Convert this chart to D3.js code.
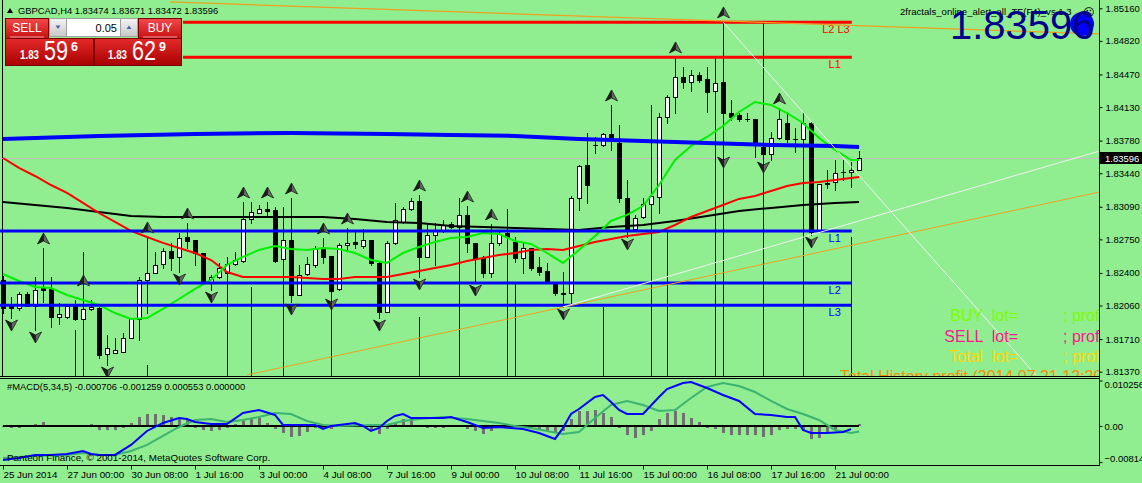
<!DOCTYPE html>
<html><head><meta charset="utf-8">
<script src="https://cdn.jsdelivr.net/npm/d3@7"></script>
<style>
html,body{margin:0;padding:0;background:#90EE90;overflow:hidden;}
svg{display:block;font-family:"Liberation Sans",Arial,sans-serif;}
</style></head><body>
<svg id="c" width="1142" height="483"></svg>
<script>
// ---------------- DATA ----------------
const opens=[1.82327,1.82055,1.82035,1.82181,1.82055,1.82243,1.82233,1.81941,1.81941,1.82055,
1.8192,1.82024,1.82035,1.81555,1.81565,1.81576,1.81722,1.8192,1.82327,1.824,
1.82494,1.82629,1.82567,1.82775,1.82744,1.82608,1.82295,1.82358,1.824,1.82494,
1.82525,1.82963,1.83025,1.83067,1.83057,1.82546,1.82744,1.8217,1.82389,1.82483,
1.8265,1.82577,1.82233,1.82692,1.82723,1.82681,1.82744,1.82504,1.81993,1.82713,
1.82932,1.83067,1.83151,1.82567,1.82796,1.82848,1.82911,1.82879,1.83005,1.82713,
1.82556,1.824,1.82713,1.82817,1.82723,1.82556,1.8266,1.82462,1.8242,1.82295,
1.82191,1.82191,1.83182,1.83526,1.83735,1.83735,1.83849,1.83756,1.83182,1.82859,
1.82984,1.83119,1.83192,1.84027,1.84235,1.84444,1.84392,1.84465,1.84423,1.84298,
1.84392,1.84068,1.84048,1.84006,1.84006,1.83714,1.83641,1.83808,1.83964,1.83797,
1.83797,1.83964,1.82838,1.83338,1.83349,1.83453,1.83457,1.83474];
const highs=[1.82368,1.82149,1.82201,1.82201,1.82358,1.8266,1.82358,1.82087,1.82066,1.82118,
1.82222,1.82118,1.82045,1.81753,1.81722,1.81774,1.8193,1.82358,1.82775,1.82619,
1.8266,1.82713,1.82817,1.82921,1.82744,1.82608,1.82379,1.82504,1.82567,1.82619,
1.8314,1.8314,1.83109,1.8314,1.83088,1.82744,1.83182,1.82483,1.82567,1.82681,
1.82765,1.82577,1.82713,1.82869,1.82848,1.82859,1.82744,1.82514,1.82733,1.8313,
1.83088,1.83182,1.83213,1.82921,1.82921,1.82952,1.82932,1.83025,1.83098,1.82713,
1.82577,1.82911,1.82827,1.8289,1.82775,1.82713,1.8266,1.82567,1.82504,1.82306,
1.8241,1.83203,1.83526,1.8386,1.83818,1.8386,1.84152,1.83943,1.8337,1.83005,
1.83182,1.83265,1.84068,1.84256,1.84653,1.84548,1.84517,1.84496,1.84548,1.84381,
1.85018,1.84204,1.84068,1.84068,1.84006,1.83756,1.8387,1.84121,1.84068,1.83912,
1.84068,1.83975,1.83328,1.83474,1.83578,1.83578,1.83557,1.83671];
const lows=[1.81982,1.8193,1.82014,1.82055,1.81805,1.82097,1.81836,1.81868,1.8193,1.81909,
1.81909,1.82014,1.81513,1.8144,1.81565,1.81576,1.81722,1.81701,1.81982,1.824,
1.82452,1.82431,1.8241,1.8266,1.82483,1.82285,1.82222,1.82348,1.82389,1.82483,
1.82514,1.82921,1.83025,1.83005,1.82514,1.82535,1.82097,1.8217,1.82379,1.82462,
1.82504,1.82149,1.82222,1.8264,1.8266,1.8266,1.82483,1.8193,1.81993,1.82702,
1.82921,1.83057,1.82358,1.82567,1.82483,1.82827,1.82869,1.82879,1.82619,1.82295,
1.82358,1.82358,1.82692,1.82744,1.82514,1.824,1.82431,1.82379,1.82295,1.8217,
1.82045,1.82087,1.83057,1.8313,1.83651,1.83724,1.83683,1.8314,1.82775,1.82848,
1.82973,1.83109,1.83025,1.83964,1.84068,1.84329,1.84298,1.84392,1.84079,1.84287,
1.8363,1.83995,1.83985,1.83985,1.8361,1.83578,1.83578,1.83797,1.83766,1.83662,
1.83735,1.82796,1.82827,1.83286,1.83265,1.8337,1.83297,1.83472];
const closes=[1.82035,1.82035,1.82181,1.82055,1.82222,1.82222,1.81941,1.81972,1.82055,1.8192,
1.82024,1.82045,1.81544,1.81617,1.81597,1.81722,1.8193,1.82327,1.824,1.82483,
1.82629,1.82556,1.82765,1.82733,1.82608,1.82295,1.82358,1.82452,1.82494,1.82535,
1.82963,1.83036,1.83067,1.83046,1.82525,1.82744,1.8217,1.82379,1.82494,1.8266,
1.82567,1.82212,1.82692,1.82713,1.82702,1.82744,1.82504,1.81993,1.82713,1.82952,
1.83067,1.83151,1.82567,1.82796,1.82848,1.829,1.82879,1.83005,1.82713,1.82556,
1.824,1.82713,1.82806,1.82775,1.82556,1.8266,1.82452,1.8241,1.82295,1.82191,
1.82181,1.83182,1.83516,1.83317,1.83731,1.83849,1.83787,1.83182,1.82859,1.82973,
1.83119,1.83203,1.84027,1.84235,1.84444,1.84392,1.84465,1.84413,1.84287,1.84381,
1.84068,1.84027,1.84006,1.84001,1.83756,1.83641,1.83808,1.84006,1.83797,1.83793,
1.83964,1.82827,1.83328,1.83328,1.83443,1.83457,1.83474,1.83596];

const maEvenIdx=[0,2,4,6,8,10,12,14,16,18,20,22,24,26,28,30,32,34,36,38,40,42,44,46,48,50,52,54,56,58,60,62,64,66,68,70,72,74,76,78,80,82,84,86,88,90,92,94,96,98,100,102,104,106,107];
const greenMA=[1.82389,1.82316,1.82254,1.82243,1.8217,1.82118,1.82066,1.81982,1.8192,1.8193,1.82024,1.82128,1.82233,1.82327,1.82483,1.82567,1.8264,1.82681,1.8265,1.8264,1.8266,1.8265,1.82608,1.82535,1.82504,1.82608,1.82671,1.82723,1.82765,1.82775,1.82817,1.82806,1.82733,1.82702,1.82608,1.82504,1.8264,1.82785,1.82942,1.83005,1.83098,1.83317,1.83578,1.83724,1.83818,1.83933,1.84079,1.84183,1.84152,1.84068,1.83964,1.83808,1.83683,1.83578,1.83578];
const redMA=[1.83599,1.83495,1.83411,1.83317,1.83234,1.8313,1.83025,1.82932,1.82838,1.82775,1.82713,1.8266,1.82608,1.82535,1.8241,1.82358,1.82358,1.82358,1.82358,1.82348,1.82337,1.82337,1.82358,1.82358,1.82358,1.82389,1.8242,1.82452,1.82483,1.82525,1.82556,1.82587,1.82608,1.8264,1.8265,1.8264,1.82681,1.82723,1.82754,1.82785,1.82806,1.82827,1.829,1.82984,1.83046,1.83109,1.83172,1.83203,1.83255,1.83307,1.83338,1.83349,1.8337,1.83391,1.83401];
const blackIdx=[0,4,8,12,16,20,24,28,32,36,40,44,48,52,56,60,64,68,72,76,80,84,88,92,96,100,104,107];
const blackMA=[1.8314,1.83109,1.83078,1.83036,1.82994,1.82984,1.82984,1.82984,1.82984,1.82984,1.82984,1.82963,1.82932,1.82921,1.8289,1.82879,1.82869,1.82859,1.82848,1.82879,1.829,1.82942,1.82994,1.83046,1.83078,1.83109,1.8313,1.8314];
const blueIdx=[0,12,24,36,48,56,64,72,80,88,96,104,107];
const blueMA=[1.83797,1.83829,1.83849,1.8386,1.83849,1.83839,1.83829,1.83797,1.83776,1.83756,1.83735,1.83724,1.83714];

const redLevelPrices=[1.85014,1.84650];
const redLevelNames=['L2 L3','L1'];
const blueLevelPrices=[1.82838,1.82295,1.82063];
const blueLevelNames=['L1','L2','L3'];

const fractalUp=[5,10,18,23,30,33,36,40,43,52,58,61,76,84,90,97];
const fractalDown=[1,4,13,22,26,36,41,47,52,59,70,78,90,95,101];

const vlineBars=[9,10,18,28,31,35,41,52,57,63,64,75,81,83,89,90,95,100,106];
const vlineTops=[1.81805,1.82619,1.8144,1.82535,1.82254,1.83088,1.82149,1.81941,1.83182,1.83067,1.82306,1.82045,1.84152,1.82848,1.84653,1.85018,1.85018,1.84068,1.82775];

// trendlines: [bar, price] endpoints
const orangeLow=[[30.5,1.81336],[137.1,1.83244]];
const orangeTop=[[20.9,1.85226],[137.1,1.84892]];
const whiteDiag=[[90,1.85018],[129.1,1.81336]];
const whiteLow=[[70,1.82045],[137.1,1.83672]];
const bidPrice=1.83596;

const priceTicks=[1.85160,1.84820,1.84470,1.84130,1.83780,1.83440,1.83090,1.82750,1.82400,1.82060,1.81710,1.81370];
const dateIdx=[0,8,16,24,32,40,48,56,64,72,80,88,96,104];
const dateLabels=['25 Jun 2014','27 Jun 00:00','30 Jun 08:00','1 Jul 16:00','3 Jul 00:00','4 Jul 08:00','7 Jul 16:00','9 Jul 00:00','10 Jul 08:00','11 Jul 16:00','15 Jul 00:00','16 Jul 08:00','17 Jul 16:00','21 Jul 00:00'];

const macdHist=[-0.00023,-0.00052,-0.00045,0,0.00052,0.00097,0,0,0,0,
0,0.00052,-0.0009,-0.00097,-0.0009,-0.00038,0.00074,0.0021,0.00277,0.00277,
0.00248,0.00203,0.00165,0.00135,-0.00038,-0.00097,-0.00119,-0.00097,-0.00038,0.00038,
0.00113,0.00165,0.00187,0.00074,-0.00074,-0.00151,-0.00241,-0.00225,-0.00135,-0.00038,
-0.00052,-0.00074,0.00038,0.00038,0.00074,0.00023,-0.00113,-0.00187,-0.00074,0.00074,
0.00165,0.00165,0.00023,-0.00038,-0.00052,-0.00038,0,0,-0.00061,-0.00113,
-0.00187,-0.00113,-0.00038,-0.00023,-0.00023,0,-0.00074,-0.00097,-0.00113,-0.00151,
-0.00113,0.00151,0.00338,0.00345,0.00367,0.003,0.00203,-0.00038,-0.0021,-0.00277,
-0.0021,-0.00113,0.00165,0.003,0.00338,0.003,0.00187,0.0009,-0.00038,-0.00061,
-0.00165,-0.0021,-0.0021,-0.0021,-0.0021,-0.00241,-0.00196,-0.0009,-0.00074,-0.00074,
-0.00113,-0.00286,-0.00264,-0.00151,-0.0009,-0.00023,0,0.00055];
const macdIdx=[0,2,4,6,8,10,11,12,14,16,18,20,22,23,24,26,28,30,32,34,35,37,39,40,41,43,44,45,46,47,48,49,50,51,55,56,58,60,62,65,67,69,70,71,72,74,75,76,77,78,80,82,83,85,86,88,90,92,94,96,98,99,100,101,103,105,106];
const macdVals=[-0.00766,-0.00721,-0.00654,-0.00654,-0.00631,-0.00564,-0.00631,-0.00654,-0.00654,-0.00428,-0.00113,0.00068,0.0018,0.00158,0.0009,0.00045,0.00045,0.00293,0.00361,0.00248,0.00023,0.00023,0.00023,-0.00068,0,0.00045,0.00068,0,-0.00113,-0.00045,0.00113,0.00225,0.0027,0.0018,0.0018,0.00203,0.0009,-0.00045,-0.00023,-0.00068,-0.00158,-0.00293,-0.00045,0.0027,0.00383,0.00654,0.00699,0.00541,0.00361,0.0027,0.0027,0.00654,0.00834,0.00969,0.00992,0.00857,0.00699,0.00564,0.0027,0.00248,0.00203,0.00203,-0.0009,-0.00158,-0.00158,-0.00135,-0.00071];
const sigIdx=[0,4,8,10,12,14,16,18,20,22,24,26,28,30,32,34,36,38,40,42,46,48,50,52,55,58,62,64,66,68,70,72,74,76,78,80,82,84,86,88,90,92,94,96,98,100,102,104,106,107];
const sigVals=[-0.00721,-0.00676,-0.00654,-0.00609,-0.00654,-0.00654,-0.00564,-0.00428,-0.00225,-0.00023,0.00135,0.00158,0.0009,0.00135,0.00203,0.00293,0.0027,0.00113,0.00023,0,0.00023,0.00023,0.00113,0.00158,0.00203,0.00158,0.00068,0,-0.00045,-0.00113,-0.0018,-0.00135,0.0018,0.00473,0.00564,0.00473,0.00338,0.00361,0.00631,0.00879,0.00969,0.00902,0.00766,0.00564,0.00383,0.0027,0.00135,-0.0009,-0.00158,-0.00126];
const macdTicks=[0.010256,0,-0.008149];

// ---------------- SCALES ----------------
const svg=d3.select('#c');
const x=d3.scaleLinear().domain([0,107]).range([3,859]);
const y=d3.scaleLinear().domain([1.81370,1.85160]).range([371.7,8.3]);
const ym=d3.scaleLinear().domain([-0.008149,0.010256]).range([462.1,380.5]);

const defs=svg.append('defs');
defs.append('clipPath').attr('id','mainClip').append('rect').attr('x',0).attr('y',0).attr('width',1099).attr('height',376);
defs.append('clipPath').attr('id','macdClip').append('rect').attr('x',0).attr('y',379).attr('width',1099).attr('height',86);
function grad(id,c1,c2){const g=defs.append('linearGradient').attr('id',id).attr('x1',0).attr('y1',0).attr('x2',0).attr('y2',1);
 g.append('stop').attr('offset','0%').attr('stop-color',c1);g.append('stop').attr('offset','100%').attr('stop-color',c2);}
grad('gTop','#F24A4A','#C81010');grad('gBot','#E42A2A','#A80000');grad('gSpin','#F4F4F4','#C8C8C8');
const ag=defs.append('linearGradient').attr('id','gArrow').attr('x1',0).attr('y1',0).attr('x2',1).attr('y2',0);
ag.append('stop').attr('offset','0%').attr('stop-color','#111');
ag.append('stop').attr('offset','50%').attr('stop-color','#222');
ag.append('stop').attr('offset','55%').attr('stop-color','#5a6a5a');
ag.append('stop').attr('offset','100%').attr('stop-color','#6a7a6a');

svg.append('rect').attr('width',1142).attr('height',483).attr('fill','#90EE90');

const main=svg.append('g').attr('clip-path','url(#mainClip)');

// left edge line
main.append('line').attr('x1',2.5).attr('x2',2.5).attr('y1',0).attr('y2',376).attr('stroke','#000');

// bid line
main.append('line').attr('x1',0).attr('x2',1099).attr('y1',Math.round(y(bidPrice))+0.5).attr('y2',Math.round(y(bidPrice))+0.5).attr('stroke','#C8BEBE').attr('stroke-width',1);

// long vertical lines
main.append('g').attr('shape-rendering','crispEdges').selectAll('line').data(vlineBars).join('line')
 .attr('x1',d=>x(d)+0.5).attr('x2',d=>x(d)+0.5).attr('y1',(d,i)=>y(vlineTops[i])).attr('y2',376).attr('stroke','#000');

// candles
const bars=d3.range(opens.length).map(i=>({i,o:opens[i],h:highs[i],l:lows[i],c:closes[i]}));
const cg=main.append('g').attr('shape-rendering','crispEdges');
cg.selectAll('line.w').data(bars).join('line').attr('class','w')
 .attr('x1',d=>x(d.i)+0.5).attr('x2',d=>x(d.i)+0.5)
 .attr('y1',d=>Math.round(y(d.h))).attr('y2',d=>Math.round(y(d.l))+1).attr('stroke','#000');
const bodyTop=d=>Math.round(y(Math.max(d.o,d.c)));
const bodyBot=d=>Math.round(y(Math.min(d.o,d.c)));
cg.selectAll('rect.b').data(bars.filter(d=>bodyBot(d)-bodyTop(d)>=1)).join('rect').attr('class','b')
 .attr('x',d=>x(d.i)-1.5).attr('width',4).attr('y',d=>bodyTop(d)+0.5).attr('height',d=>bodyBot(d)-bodyTop(d))
 .attr('fill',d=>d.c>=d.o?'#fff':'#000').attr('stroke','#000');
cg.selectAll('line.d').data(bars.filter(d=>bodyBot(d)-bodyTop(d)<1)).join('line').attr('class','d')
 .attr('x1',d=>x(d.i)-2).attr('x2',d=>x(d.i)+3).attr('y1',d=>bodyTop(d)+0.5).attr('y2',d=>bodyTop(d)+0.5).attr('stroke','#000');

// moving averages
const pl=(idx,vals)=>idx.map((b,i)=>[b,vals[i]]);
const lineP=d3.line().x(d=>x(d[0])).y(d=>y(d[1]));
main.append('path').attr('d',lineP(pl(blackIdx,blackMA))).attr('fill','none').attr('stroke','#000').attr('stroke-width',2);
main.append('path').attr('d',lineP(pl(maEvenIdx,redMA))).attr('fill','none').attr('stroke','#FF0000').attr('stroke-width',2);
main.append('path').attr('d',lineP(pl(maEvenIdx,greenMA))).attr('fill','none').attr('stroke','#00F000').attr('stroke-width',2);
main.append('path').attr('d',lineP(pl(blueIdx,blueMA))).attr('fill','none').attr('stroke','#0000FF').attr('stroke-width',4);

// levels
const lv=main.append('g');
redLevelPrices.forEach((p,i)=>{
 lv.append('line').attr('x1',x(22.5)).attr('x2',x(106.1)).attr('y1',y(p)).attr('y2',y(p)).attr('stroke','#FF0000').attr('stroke-width',3);
 lv.append('text').attr('x',redLevelNames[i].length>2?x(102.4):x(103.2)).attr('y',y(p)+11).attr('font-size','11px').attr('fill','#FF0000').text(redLevelNames[i]);
});
blueLevelPrices.forEach((p,i)=>{
 lv.append('line').attr('x1',0).attr('x2',x(106.1)).attr('y1',y(p)).attr('y2',y(p)).attr('stroke','#0000FF').attr('stroke-width',3);
 lv.append('text').attr('x',x(103.2)).attr('y',y(p)+11).attr('font-size','11px').attr('fill','#0000FF').text(blueLevelNames[i]);
});

// trendlines
const tl=main.append('g').attr('fill','none');
tl.append('path').attr('d',lineP(orangeLow)).attr('stroke','#F0A020').attr('stroke-width',1);
tl.append('path').attr('d',lineP(orangeTop)).attr('stroke','#F0A020').attr('stroke-width',1.2);
tl.append('path').attr('d',lineP(whiteDiag)).attr('stroke','#F2F2F2').attr('stroke-width',1);
tl.append('path').attr('d',lineP(whiteLow)).attr('stroke','#F2F2F2').attr('stroke-width',1);

// fractal arrows
const upPath='M0,-6 L6,5 L0,2 L-6,5 Z';
const dnPath='M0,6 L6,-5 L0,-2 L-6,-5 Z';
const fg=main.append('g');
fg.selectAll('path.u').data(fractalUp).join('path').attr('class','u').attr('d',upPath)
 .attr('transform',d=>`translate(${x(d)+0.5},${y(highs[d])-9})`).attr('fill','url(#gArrow)').attr('stroke','#1a1a1a').attr('stroke-width',0.8);
fg.selectAll('path.dn').data(fractalDown).join('path').attr('class','dn').attr('d',dnPath)
 .attr('transform',d=>`translate(${x(d)+0.5},${y(lows[d])+7})`).attr('fill','url(#gArrow)').attr('stroke','#1a1a1a').attr('stroke-width',0.8);

// lot / profit texts
const tx=main.append('g').attr('font-size','16px');
[['BUY  lot=','#7CFC00',321],['SELL  lot=','#FF1493',342],['Total  lot=','#FFD700',362]].forEach(r=>{
 tx.append('text').attr('x',1018).attr('y',r[2]).attr('text-anchor','end').attr('fill',r[1]).attr('xml:space','preserve').text(r[0]);
 tx.append('text').attr('x',1063).attr('y',r[2]).attr('fill',r[1]).text('; profit');
});
tx.append('text').attr('x',840).attr('y',382).attr('fill','#FF8C00').text('Total History profit (2014.07.21 12:20)');

// indicator name + big price
main.append('circle').attr('cx',1082).attr('cy',24).attr('r',12).attr('fill','#0000FF');
main.append('text').attr('x',900).attr('y',15).attr('font-size','9.6px').attr('fill','#000').text('2fractals_online_alert_all_TF(F4)_vs 1.3');
main.append('text').attr('x',1083).attr('y',16).attr('font-size','11px').attr('font-family','DejaVu Sans').attr('fill','#000').text('\u263A');
main.append('text').attr('x',950).attr('y',39).attr('font-size','40px').attr('fill','#00008B').text(d3.format('.5f')(bidPrice));

// frame
const fr=svg.append('g').attr('stroke','#000').attr('shape-rendering','crispEdges');
fr.append('line').attr('x1',1099.5).attr('x2',1099.5).attr('y1',0).attr('y2',466);
fr.append('line').attr('x1',0).attr('x2',1100).attr('y1',376.5).attr('y2',376.5);
fr.append('line').attr('x1',0).attr('x2',1100).attr('y1',378.5).attr('y2',378.5);
fr.append('line').attr('x1',0).attr('x2',1100).attr('y1',465.5).attr('y2',465.5);

// price axis
const pa=svg.append('g').attr('transform','translate(1099.5,0)')
 .call(d3.axisRight(y).tickValues(priceTicks).tickSize(3).tickFormat(d3.format('.5f')));
pa.select('.domain').remove();
pa.attr('font-family','Liberation Sans').attr('font-size','9.5px');
pa.selectAll('text').attr('x',6).attr('fill','#000');
pa.selectAll('line').attr('stroke','#000');
// current price box
svg.append('rect').attr('x',1100).attr('y',Math.round(y(bidPrice))-6).attr('width',42).attr('height',12).attr('fill','#000');
svg.append('text').attr('x',1105).attr('y',Math.round(y(bidPrice))+3.5).attr('font-size','9.5px').attr('fill','#fff').text(d3.format('.5f')(bidPrice));

// ---------------- MACD ----------------
const mg=svg.append('g').attr('clip-path','url(#macdClip)');
mg.append('g').attr('shape-rendering','crispEdges').selectAll('rect').data(macdHist).join('rect')
 .attr('x',(d,i)=>x(i)-1).attr('width',3)
 .attr('y',d=>Math.min(ym(d),ym(0))).attr('height',d=>Math.abs(ym(d)-ym(0))).attr('fill','#707070');
mg.append('line').attr('x1',x(0)).attr('x2',x(107)).attr('y1',ym(0)).attr('y2',ym(0)).attr('stroke','#000').attr('stroke-width',2);
const lineM=d3.line().x(d=>x(d[0])).y(d=>ym(d[1]));
mg.append('path').attr('d',lineM(pl(sigIdx,sigVals))).attr('fill','none').attr('stroke','#3CB371').attr('stroke-width',2);
mg.append('path').attr('d',lineM(pl(macdIdx,macdVals))).attr('fill','none').attr('stroke','#0000FF').attr('stroke-width',2);
mg.append('text').attr('x',7).attr('y',390).attr('font-size','9.4px').attr('fill','#000')
 .text('#MACD(5,34,5) -0.000706 -0.001259 0.000553 0.000000');
mg.append('text').attr('x',7).attr('y',461).attr('font-size','9.8px').attr('fill','#000')
 .text('Panteon Finance, \u00A9 2001-2014, MetaQuotes Software Corp.');

const ma=svg.append('g').attr('transform','translate(1099.5,0)')
 .call(d3.axisRight(ym).tickValues(macdTicks).tickSize(3).tickFormat(d=>d===0?'0.00':d3.format('.6f')(d)));
ma.select('.domain').remove();
ma.attr('font-family','Liberation Sans').attr('font-size','9.5px');
ma.selectAll('text').attr('x',5).attr('fill','#000').attr('dy',(d)=>d>0.005?'0.75em':(d<-0.005?'-0.05em':'0.32em'));
ma.selectAll('line').attr('stroke','#000');

// date axis
const da=svg.append('g').attr('transform','translate(0,465.5)')
 .call(d3.axisBottom(x).tickValues(dateIdx).tickSize(4).tickFormat((d,i)=>dateLabels[i]));
da.select('.domain').remove();
da.attr('font-family','Liberation Sans').attr('font-size','9.8px');
da.selectAll('text').attr('text-anchor','start').attr('x',0).attr('y',12.5).attr('dy',0).attr('fill','#000');
da.selectAll('line').attr('stroke','#000');

// ---------------- HEADER + TRADE PANEL ----------------
svg.append('path').attr('d','M7,13 L10,8 L13,13 Z').attr('fill','#000');
svg.append('text').attr('x',18).attr('y',14).attr('font-size','9.4px').attr('fill','#000')
 .text('GBPCAD,H4  '+[opens[107],highs[107],lows[107],closes[107]].map(d3.format('.5f')).join(' '));

const tp=svg.append('g');
tp.append('rect').attr('x',5.5).attr('y',18.5).attr('width',43).attr('height',20).attr('fill','url(#gTop)').attr('stroke','#7a0000');
tp.append('rect').attr('x',138.5).attr('y',18.5).attr('width',43).attr('height',20).attr('fill','url(#gTop)').attr('stroke','#7a0000');
tp.append('rect').attr('x',5.5).attr('y',38.5).attr('width',88).attr('height',27).attr('fill','url(#gBot)').attr('stroke','#7a0000');
tp.append('rect').attr('x',94.5).attr('y',38.5).attr('width',87).attr('height',27).attr('fill','url(#gBot)').attr('stroke','#7a0000');
tp.append('line').attr('x1',10).attr('x2',44).attr('y1',37).attr('y2',37).attr('stroke','#F7A0A0');
tp.append('line').attr('x1',143).attr('x2',177).attr('y1',37).attr('y2',37).attr('stroke','#F7A0A0');
tp.append('text').attr('x',27).attr('y',32).attr('text-anchor','middle').attr('font-size','12px').attr('fill','#fff').text('SELL');
tp.append('text').attr('x',160).attr('y',32).attr('text-anchor','middle').attr('font-size','12px').attr('fill','#fff').text('BUY');
// spin box
tp.append('rect').attr('x',49.5).attr('y',18.5).attr('width',88).attr('height',18).attr('fill','#fff').attr('stroke','#A0A0A0');
tp.append('rect').attr('x',49.5).attr('y',18.5).attr('width',17).attr('height',18).attr('fill','url(#gSpin)').attr('stroke','#A0A0A0');
tp.append('rect').attr('x',120.5).attr('y',18.5).attr('width',17).attr('height',18).attr('fill','url(#gSpin)').attr('stroke','#A0A0A0');
tp.append('path').attr('d','M55.5,25.5 L60.5,25.5 L58,29 Z').attr('fill','#5060A0');
tp.append('path').attr('d','M126.5,29 L131.5,29 L129,25.5 Z').attr('fill','#5060A0');
tp.append('text').attr('x',117).attr('y',31.5).attr('text-anchor','end').attr('font-size','11px').attr('fill','#000').text('0.05');
// prices
const bigP=(x0,a,b,c)=>{
 tp.append('text').attr('x',x0).attr('y',59).attr('font-size','12.5px').attr('font-weight','bold').attr('fill','#fff').attr('textLength',19).attr('lengthAdjust','spacingAndGlyphs').text(a);
 tp.append('text').attr('x',x0+24).attr('y',60).attr('font-size','27px').attr('fill','#fff').attr('textLength',24).attr('lengthAdjust','spacingAndGlyphs').text(b);
 tp.append('text').attr('x',x0+51).attr('y',51).attr('font-size','12.5px').attr('font-weight','bold').attr('fill','#fff').text(c);
};
bigP(20,'1.83','59','6');
bigP(108,'1.83','62','9');
</script>
</body></html>
